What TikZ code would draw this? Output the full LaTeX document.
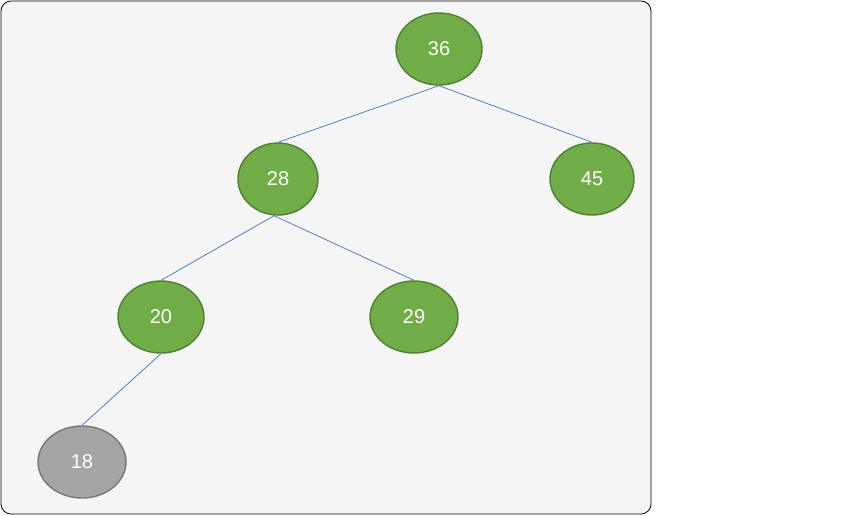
\documentclass[tikz,border=0pt]{standalone}
\usepackage{fontspec}
\setmainfont{Liberation Sans}
\definecolor{leafgreen}{HTML}{70AD47}
\definecolor{leafedge}{HTML}{507E32}
\definecolor{greyfill}{HTML}{A5A5A5}
\definecolor{greyedge}{HTML}{787878}
\definecolor{linkblue}{HTML}{4472C4}
\definecolor{panel}{HTML}{F5F5F5}
\tikzset{
  keynode/.style={ellipse, draw=leafedge, fill=leafgreen, line width=1.4pt, text=white,
    minimum width=86pt, minimum height=72pt, inner sep=0pt, font=\fontsize{20}{24}\selectfont},
  greynode/.style={keynode, draw=greyedge, fill=greyfill},
  link/.style={draw=linkblue, line width=0.7pt}
}
\usetikzlibrary{shapes.geometric}
\begin{document}
\begin{tikzpicture}[x=1pt,y=-1pt]
		\useasboundingbox (0,0) rectangle (850,515);
		\draw[fill=panel, rounded corners=10pt, line width=0.8pt] (1,1) rectangle (651,514);
		\node[keynode] (n36) at (439,49) {36};
		\node[keynode, minimum width=80pt] (n28) at (278,179) {28};
		\node[keynode, minimum width=84pt] (n45) at (592,179) {45};
		\node[keynode] (n20) at (161,317) {20};
		\node[keynode, minimum width=88pt] (n29) at (414,317) {29};
		\node[greynode, minimum width=88pt] (n18) at (82,462) {18};
		\draw[link] (n36.south) -- (n28.north);
		\draw[link] (n36.south) -- (n45.north);
		\draw[link] ([xshift=-4pt]n28.south) -- (n20.north);
		\draw[link] ([xshift=-4pt]n28.south) -- (n29.north);
		\draw[link] (n20.south) -- (n18.north);
		\end{tikzpicture}
\end{document}
